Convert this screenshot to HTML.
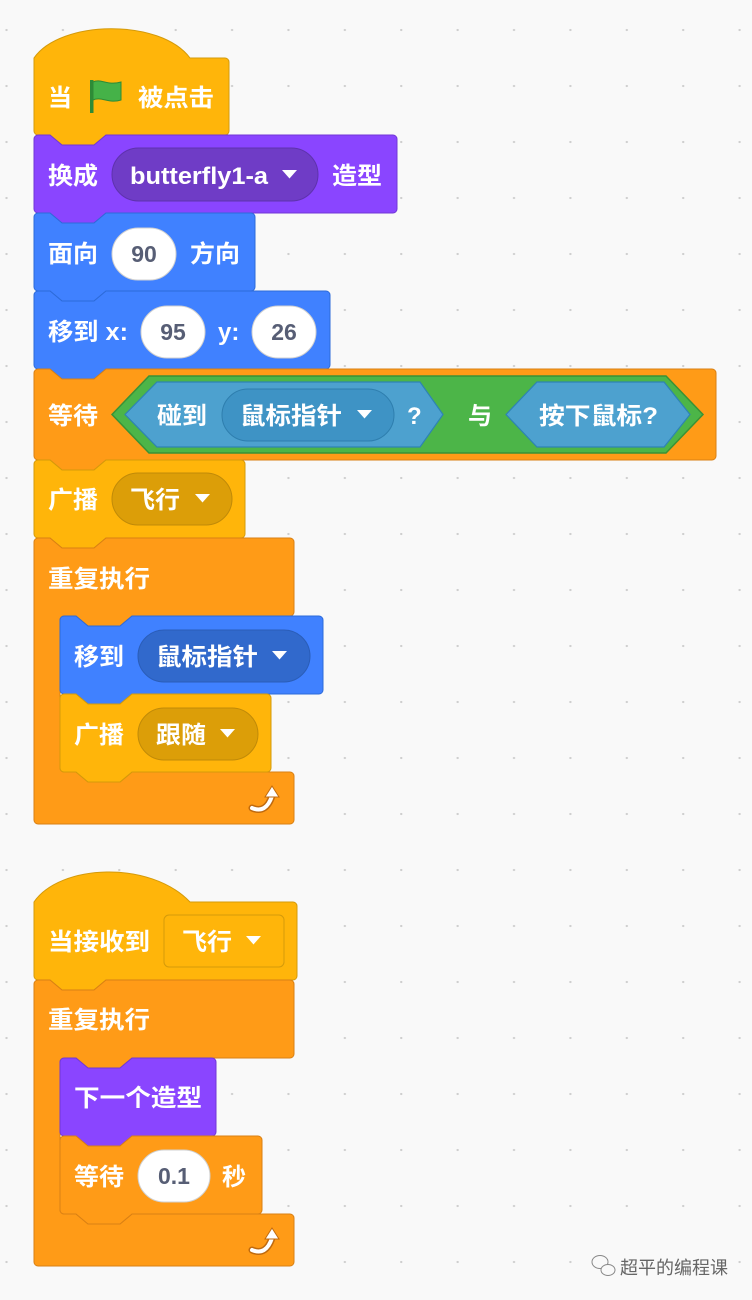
<!DOCTYPE html>
<html><head><meta charset="utf-8"><style>
html,body{margin:0;padding:0;}
body{width:752px;height:1300px;background-color:#f9f9f9;background-image:radial-gradient(circle,#cfcfcf 1px,transparent 1.3px);background-size:56.4px 56px;background-position:-21.7px 2px;overflow:hidden;}
svg{position:absolute;left:0;top:0;}
text{font-family:"Liberation Sans","Noto Sans CJK SC",sans-serif;font-weight:bold;font-size:24px;fill:#fff;}
.n{fill:#575e75;font-size:23px;}
.y{fill:#FFB50A;stroke:#D49A0A;stroke-width:1;}
.o{fill:#FF9B17;stroke:#D98014;stroke-width:1;}
.p{fill:#8A45FF;stroke:#7138D6;stroke-width:1;}
.b{fill:#4081FF;stroke:#2D6BD9;stroke-width:1;}
.w{fill:#fff;stroke:#d0d0d0;stroke-width:1;}
</style></head><body>
<svg width="752" height="1300" viewBox="0 0 752 1300">
<defs>
<g id="tri"><path d="M-1 -1h15l-7.5 8.5z" fill="#fff"/></g>
<g id="loop"><path d="M-12 10 q14 6 20 -12" stroke="#c06a0e" stroke-width="7" fill="none" stroke-linecap="round"/><path d="M-12 10 q14 6 20 -12" stroke="#fff" stroke-width="4" fill="none" stroke-linecap="round"/><path d="M1 -1 L8 -12 L15 -1 Z" fill="#fff" stroke="#c06a0e" stroke-width="1"/></g>
</defs>

<!-- Hat 1 -->
<path class="y" d="M34 58 C60 20 160 18 190 58 H225 a4 4 0 0 1 4 4 V131 a4 4 0 0 1 -4 4 H106 l-12 10 h-32 l-12 -10 H38 a4 4 0 0 1 -4 -4 Z"/>
<text x="48" y="106">当</text>
<rect x="90" y="80" width="3.5" height="33" fill="#2e8b36"/>
<path d="M93 82 c8 -4 14 4 28 0 v18 c-12 4 -20 -4 -28 0 z" fill="#45b248" stroke="#2e8b36" stroke-width="1"/>
<text x="138" y="106" textLength="76" lengthAdjust="spacingAndGlyphs">被点击</text>

<!-- Purple -->
<path class="p" d="M34 139a4 4 0 0 1 4-4H50l12 10h32l12-10H393a4 4 0 0 1 4 4V209a4 4 0 0 1-4 4H106l-12 10h-32l-12-10H38a4 4 0 0 1-4-4Z"/>
<text x="48" y="184" textLength="50" lengthAdjust="spacingAndGlyphs">换成</text>
<rect x="112" y="148" width="206" height="53" rx="26.5" fill="#6F3CC6" stroke="#5e32ad"/>
<text x="130" y="184" textLength="138" lengthAdjust="spacingAndGlyphs">butterfly1-a</text>
<use href="#tri" x="283" y="171"/>
<text x="332" y="184" textLength="50" lengthAdjust="spacingAndGlyphs">造型</text>

<!-- Blue 1 -->
<path class="b" d="M34 217a4 4 0 0 1 4-4H50l12 10h32l12-10H251a4 4 0 0 1 4 4V287a4 4 0 0 1-4 4H106l-12 10h-32l-12-10H38a4 4 0 0 1-4-4Z"/>
<text x="48" y="262" textLength="50" lengthAdjust="spacingAndGlyphs">面向</text>
<rect class="w" x="112" y="228" width="64" height="52" rx="26"/>
<text class="n" x="144" y="262" text-anchor="middle">90</text>
<text x="190" y="262" textLength="50" lengthAdjust="spacingAndGlyphs">方向</text>

<!-- Blue 2 -->
<path class="b" d="M34 295a4 4 0 0 1 4-4H50l12 10h32l12-10H326a4 4 0 0 1 4 4V365a4 4 0 0 1-4 4H106l-12 10h-32l-12-10H38a4 4 0 0 1-4-4Z"/>
<text x="48" y="340" textLength="80" lengthAdjust="spacingAndGlyphs">移到 x:</text>
<rect class="w" x="141" y="306" width="64" height="52" rx="26"/>
<text class="n" x="173" y="340" text-anchor="middle">95</text>
<text x="218" y="340">y:</text>
<rect class="w" x="252" y="306" width="64" height="52" rx="26"/>
<text class="n" x="284" y="340" text-anchor="middle">26</text>

<!-- Wait until -->
<path class="o" d="M34 373a4 4 0 0 1 4-4H50l12 10h32l12-10H712a4 4 0 0 1 4 4V456a4 4 0 0 1-4 4H106l-12 10h-32l-12-10H38a4 4 0 0 1-4-4Z"/>
<text x="48" y="424" textLength="50" lengthAdjust="spacingAndGlyphs">等待</text>
<path d="M112 414.5 L149 376 H666 L703 414.5 L666 453 H149 Z" fill="#4CB548" stroke="#3a9236" stroke-width="1.5"/>
<path d="M125 414.5 L157 382 H420 L443 414.5 L420 447 H157 Z" fill="#4DA1CF" stroke="#2E83B3" stroke-width="1.2"/>
<text x="157" y="424" textLength="50" lengthAdjust="spacingAndGlyphs">碰到</text>
<rect x="222" y="389" width="172" height="52" rx="26" fill="#3E93C5" stroke="#2E7EAE"/>
<text x="240" y="424" textLength="102" lengthAdjust="spacingAndGlyphs">鼠标指针</text>
<use href="#tri" x="358" y="411"/>
<text x="407" y="424">?</text>
<text x="468" y="424">与</text>
<path d="M506 414.5 L537 382 H664 L690 414.5 L664 447 H537 Z" fill="#4DA1CF" stroke="#2E83B3" stroke-width="1.2"/>
<text x="539" y="424" textLength="119" lengthAdjust="spacingAndGlyphs">按下鼠标?</text>

<!-- Broadcast -->
<path class="y" d="M34 464a4 4 0 0 1 4-4H50l12 10h32l12-10H241a4 4 0 0 1 4 4V534a4 4 0 0 1-4 4H106l-12 10h-32l-12-10H38a4 4 0 0 1-4-4Z"/>
<text x="48" y="508" textLength="50" lengthAdjust="spacingAndGlyphs">广播</text>
<rect x="112" y="473" width="120" height="52" rx="26" fill="#DC9E08" stroke="#c08a08"/>
<text x="130" y="508" textLength="50" lengthAdjust="spacingAndGlyphs">飞行</text>
<use href="#tri" x="196" y="495"/>

<!-- Forever 1 -->
<path class="o" d="M34 542a4 4 0 0 1 4-4H50l12 10h32l12-10H290a4 4 0 0 1 4 4V612a4 4 0 0 1-4 4H132l-12 10h-32l-12-10H64a4 4 0 0 0-4 4V768a4 4 0 0 0 4 4H76l12 10h32l12-10H290a4 4 0 0 1 4 4V820a4 4 0 0 1-4 4H38a4 4 0 0 1-4-4Z"/>
<text x="48" y="587" textLength="102" lengthAdjust="spacingAndGlyphs">重复执行</text>
<path class="b" d="M60 620a4 4 0 0 1 4-4H76l12 10h32l12-10H319a4 4 0 0 1 4 4V690a4 4 0 0 1-4 4H132l-12 10h-32l-12-10H64a4 4 0 0 1-4-4Z"/>
<text x="74" y="665" textLength="50" lengthAdjust="spacingAndGlyphs">移到</text>
<rect x="138" y="630" width="172" height="52" rx="26" fill="#3169CC" stroke="#2a5db8"/>
<text x="156" y="665" textLength="102" lengthAdjust="spacingAndGlyphs">鼠标指针</text>
<use href="#tri" x="273" y="652"/>
<path class="y" d="M60 698a4 4 0 0 1 4-4H76l12 10h32l12-10H267a4 4 0 0 1 4 4V768a4 4 0 0 1-4 4H132l-12 10h-32l-12-10H64a4 4 0 0 1-4-4Z"/>
<text x="74" y="743" textLength="50" lengthAdjust="spacingAndGlyphs">广播</text>
<rect x="138" y="708" width="120" height="52" rx="26" fill="#DC9E08" stroke="#c08a08"/>
<text x="156" y="743" textLength="50" lengthAdjust="spacingAndGlyphs">跟随</text>
<use href="#tri" x="221" y="730"/>
<use href="#loop" x="264" y="798"/>

<!-- Hat 2 -->
<path class="y" d="M34 902 C60 864 150 860 190 902 H293 a4 4 0 0 1 4 4 V976 a4 4 0 0 1 -4 4 H106 l-12 10 h-32 l-12 -10 H38 a4 4 0 0 1 -4 -4 Z"/>
<text x="48" y="950" textLength="102" lengthAdjust="spacingAndGlyphs">当接收到</text>
<rect x="164" y="915" width="120" height="52" rx="5" fill="#FFB50A" stroke="#D49A0A"/>
<text x="182" y="950" textLength="50" lengthAdjust="spacingAndGlyphs">飞行</text>
<use href="#tri" x="247" y="937"/>

<!-- Forever 2 -->
<path class="o" d="M34 984a4 4 0 0 1 4-4H50l12 10h32l12-10H290a4 4 0 0 1 4 4V1054a4 4 0 0 1-4 4H132l-12 10h-32l-12-10H64a4 4 0 0 0-4 4V1210a4 4 0 0 0 4 4H76l12 10h32l12-10H290a4 4 0 0 1 4 4V1262a4 4 0 0 1-4 4H38a4 4 0 0 1-4-4Z"/>
<text x="48" y="1028" textLength="102" lengthAdjust="spacingAndGlyphs">重复执行</text>
<path class="p" d="M60 1062a4 4 0 0 1 4-4H76l12 10h32l12-10H212a4 4 0 0 1 4 4V1132a4 4 0 0 1-4 4H132l-12 10h-32l-12-10H64a4 4 0 0 1-4-4Z"/>
<text x="74" y="1106" textLength="128" lengthAdjust="spacingAndGlyphs">下一个造型</text>
<path class="o" d="M60 1140a4 4 0 0 1 4-4H76l12 10h32l12-10H258a4 4 0 0 1 4 4V1210a4 4 0 0 1-4 4H132l-12 10h-32l-12-10H64a4 4 0 0 1-4-4Z"/>
<text x="74" y="1185" textLength="50" lengthAdjust="spacingAndGlyphs">等待</text>
<rect class="w" x="138" y="1150" width="72" height="52" rx="26"/>
<text class="n" x="174" y="1184" text-anchor="middle">0.1</text>
<text x="222" y="1185">秒</text>
<use href="#loop" x="264" y="1240"/>

<!-- Watermark -->
<g fill="none" stroke="#888" stroke-width="1">
<ellipse cx="600" cy="1262" rx="8" ry="6.5" fill="#f9f9f9"/>
<ellipse cx="608" cy="1270" rx="7" ry="5.5" fill="#f9f9f9"/>
</g>
<text x="620" y="1274" style="font-size:18px;font-weight:normal;fill:#666" textLength="108" lengthAdjust="spacingAndGlyphs">超平的编程课</text>
</svg>
</body></html>
